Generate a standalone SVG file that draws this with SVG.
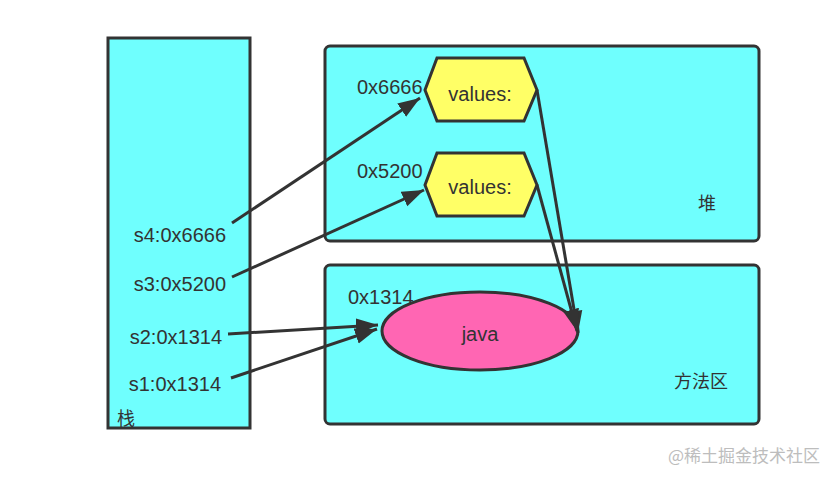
<svg xmlns="http://www.w3.org/2000/svg" width="835" height="483" viewBox="0 0 835 483">
<style>
.box{fill:#6ffffe;stroke:#333;stroke-width:3}
.hex{fill:#ffff66;stroke:#333;stroke-width:3}
.t{font-family:"Liberation Sans","Noto Sans CJK SC",sans-serif;font-size:20px;fill:#333}
.c{font-family:"Liberation Sans","Noto Sans CJK SC",sans-serif;font-size:18px;fill:#333}
.ln{stroke:#333;stroke-width:3;fill:none;marker-end:url(#ah)}
</style>
<defs>
<marker id="ah" markerUnits="userSpaceOnUse" markerWidth="24" markerHeight="18" refX="22" refY="9" orient="auto" viewBox="0 0 24 18">
<path d="M0,1 L22,9 L0,17 Z" fill="#333"/>
</marker>
</defs>
<rect width="835" height="483" fill="#fff"/>
<g id="stack">
<rect class="box" x="108" y="38" width="142" height="390"/>
<text class="t" x="226" y="242" text-anchor="end">s4:0x6666</text>
<text class="t" x="226" y="291" text-anchor="end">s3:0x5200</text>
<text class="t" x="222" y="344" text-anchor="end">s2:0x1314</text>
<text class="t" x="221" y="391" text-anchor="end">s1:0x1314</text>
<text class="c" x="117" y="425">栈</text>
</g>
<g id="heap">
<rect class="box" x="325" y="46" width="434" height="195" rx="5"/>
<text class="c" x="698" y="210">堆</text>
</g>
<g id="method">
<rect class="box" x="325" y="265" width="434" height="159" rx="5"/>
<text class="c" x="674" y="388">方法区</text>
</g>
<g id="obj1">
<polygon class="hex" points="437,58 524,58 537,90 524,121 437,121 425,90"/>
<text class="t" x="480" y="101" text-anchor="middle">values:</text>
<text class="t" x="357" y="94">0x6666</text>
</g>
<g id="obj2">
<polygon class="hex" points="437,153 524,153 537,185 524,216 437,216 425,185"/>
<text class="t" x="480" y="194" text-anchor="middle">values:</text>
<text class="t" x="357" y="178">0x5200</text>
</g>
<g id="java">
<ellipse cx="480" cy="331" rx="98" ry="39" fill="#ff66b3" stroke="#333" stroke-width="3"/>
<text class="t" x="480" y="341" text-anchor="middle">java</text>
<text class="t" x="348" y="304">0x1314</text>
</g>
<g id="connectors">
<line class="ln" x1="232" y1="223" x2="420" y2="98"/>
<line class="ln" x1="232" y1="277" x2="424" y2="190"/>
<line class="ln" x1="228" y1="334" x2="378" y2="325"/>
<line class="ln" x1="231" y1="378" x2="377" y2="329"/>
<line class="ln" x1="537" y1="90" x2="578" y2="333"/>
<line class="ln" x1="537" y1="185" x2="577" y2="331"/>
</g>
<text x="820" y="462" text-anchor="end" font-family="'Noto Sans CJK SC',sans-serif" font-size="17" fill="#bdbdbd">@稀土掘金技术社区</text>
</svg>
